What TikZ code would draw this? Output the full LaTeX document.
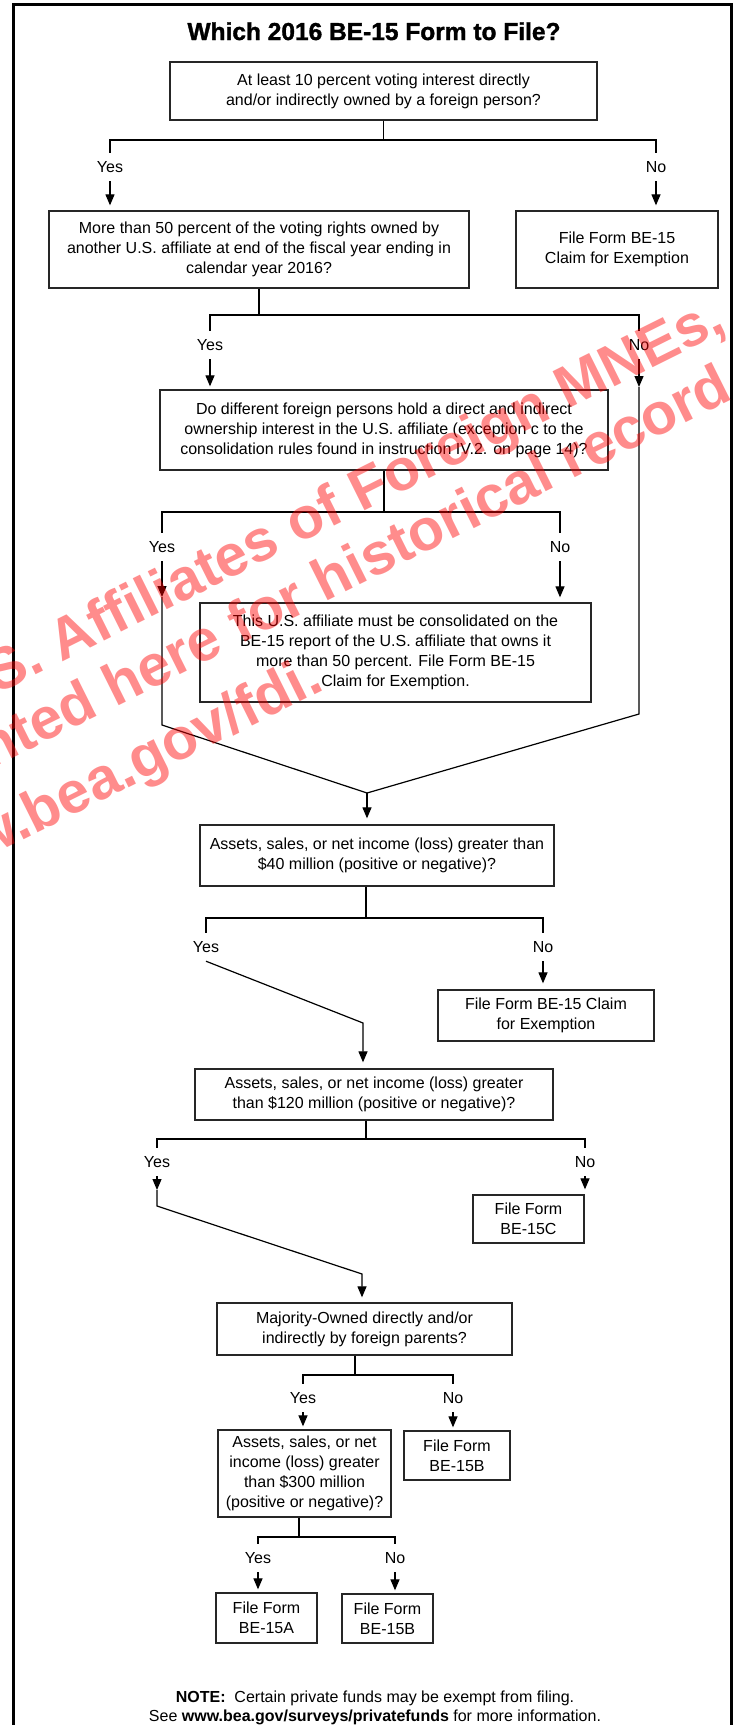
\documentclass[tikz,border=0pt]{standalone}
\usepackage{fontspec}
\setmainfont{Liberation Sans}
\newfontfamily\titlefont[BoldFeatures={FakeBold=1.4}]{Liberation Sans}
\usetikzlibrary{arrows.meta}
\usetikzlibrary{positioning}

\tikzset{
    box/.style={draw=black!85, line width=1.3pt, align=center, inner sep=0pt, font=\fontsize{16}{20}\selectfont},
    lbl/.style={inner sep=0pt, minimum height=28pt, font=\fontsize{16}{20}\selectfont},
    conn/.style={line width=1.2pt},
    arr/.style={-{Triangle[length=11pt,width=9pt]}},
    wmark/.style={rotate=26.5, anchor=base east, inner sep=0pt, red, opacity=0.45, font=\fontsize{58.5}{60}\selectfont\bfseries},
}

\begin{document}
\begin{tikzpicture}[x=1pt,y=-1pt]
    \useasboundingbox (0,0) rectangle (736,1725);
    \draw[line width=3pt] (13.5,1740) -- (13.5,4.5) -- (731.5,4.5) -- (731.5,1740);
    \node[anchor=base, font=\titlefont\fontsize{24.5}{28}\selectfont\bfseries] (title) at (374,40) {Which 2016 BE-15 Form to File?};

    % boxes
    \node[box, minimum width=427pt, minimum height=58pt] (q10) at (383.5,91) {At least 10 percent voting interest directly\\and/or indirectly owned by a foreign person?};
    \node[box, minimum width=420pt, minimum height=77pt] (q50) at (259,249.5) {More than 50 percent of the voting rights owned by\\another U.S. affiliate at end of the fiscal year ending in\\calendar year 2016?};
    \node[box, minimum width=202pt, minimum height=77pt] (ex1) at (617,249.5) {File Form BE-15\\Claim for Exemption};
    \node[box, minimum width=448pt, minimum height=80pt] (qdiff) at (384,430) {Do different foreign persons hold a direct and indirect\\ownership interest in the U.S. affiliate (exception c to the\\consolidation rules found in instruction IV.2. on page 14)?};
    \node[box, minimum width=391pt, minimum height=99pt] (cons) at (395.5,652.5) {This U.S. affiliate must be consolidated on the\\BE-15 report of the U.S. affiliate that owns it\\more than 50 percent. File Form BE-15\\Claim for Exemption.};
    \node[box, minimum width=354pt, minimum height=61pt] (q40) at (377,855.5) {Assets, sales, or net income (loss) greater than\\\$40 million (positive or negative)?};
    \node[box, minimum width=216pt, minimum height=51pt] (ex2) at (546,1015.5) {File Form BE-15 Claim\\for Exemption};
    \node[box, minimum width=358pt, minimum height=51pt] (q120) at (374,1094.5) {Assets, sales, or net income (loss) greater\\than \$120 million (positive or negative)?};
    \node[box, minimum width=111pt, minimum height=48pt] (c15c) at (528.5,1219) {File Form\\BE-15C};
    \node[box, minimum width=295pt, minimum height=52pt] (qmaj) at (364.5,1329) {Majority-Owned directly and/or\\indirectly by foreign parents?};
    \node[box, minimum width=173pt, minimum height=87pt] (q300) at (304.5,1473.5) {Assets, sales, or net\\income (loss) greater\\than \$300 million\\(positive or negative)?};
    \node[box, minimum width=106pt, minimum height=49pt] (b15b) at (457,1455.5) {File Form\\BE-15B};
    \node[box, minimum width=101pt, minimum height=50pt] (b15a) at (266.5,1618) {File Form\\BE-15A};
    \node[box, minimum width=91pt, minimum height=49pt] (b15bb) at (387.5,1618.5) {File Form\\BE-15B};

    % yes / no labels
    \node[lbl] (y1) at (110,167) {Yes};
    \node[lbl] (n1) at (656,167) {No};
    \node[lbl] (y2) at (210,345) {Yes};
    \node[lbl] (n2) at (639,345) {No};
    \node[lbl] (y3) at (162,547) {Yes};
    \node[lbl] (n3) at (560,547) {No};
    \node[lbl] (y4) at (206,947) {Yes};
    \node[lbl] (n4) at (543,947) {No};
    \node[lbl] (y5) at (157,1162) {Yes};
    \node[lbl] (n5) at (585,1162) {No};
    \node[lbl] (y6) at (303,1398) {Yes};
    \node[lbl] (n6) at (453,1398) {No};
    \node[lbl] (y7) at (258,1558) {Yes};
    \node[lbl] (n7) at (395,1558) {No};

    \coordinate (b1) at (383.5,140);
    \coordinate (b2) at (259,315);
    \coordinate (t2) at (639,387);
    \coordinate (r2) at (639,714);
    \coordinate (m1) at (367,793);
    \coordinate (b3) at (384,512);
    \coordinate (t3) at (162,597);
    \coordinate (l3) at (162,725);
    \coordinate (b4) at (366,918);
    \coordinate (d4) at (363,1023);
    \coordinate (b5) at (366,1139);
    \coordinate (t5) at (157,1190);
    \coordinate (l5) at (157,1206);
    \coordinate (d5) at (362,1274);
    \coordinate (b6) at (355,1375);
    \coordinate (b7) at (299,1537);

    % connectors
    \draw[conn] (q10.south) -- (b1);
    \draw[conn] (y1.north) |- (b1) -| (n1.north);
    \draw[conn,arr,shorten >=5pt] (y1.south) -- (y1.south |- q50.north);
    \draw[conn,arr,shorten >=5pt] (n1.south) -- (n1.south |- ex1.north);

    \draw[conn] (q50.south) -- (b2);
    \draw[conn] (y2.north) |- (b2) -| (n2.north);
    \draw[conn,arr,shorten >=3pt] (y2.south) -- (y2.south |- qdiff.north);
    \draw[conn,arr] (n2.south) -- (t2);
    \draw[conn] (t2) -- (r2) -- (m1);

    \draw[conn] (qdiff.south) -- (b3);
    \draw[conn] (y3.north) |- (b3) -| (n3.north);
    \draw[conn,arr] (y3.south) -- (t3);
    \draw[conn] (t3) -- (l3) -- (m1);
    \draw[conn,arr,shorten >=5pt] (n3.south) -- (n3.south |- cons.north);
    \draw[conn,arr,shorten >=6pt] (m1) -- (m1 |- q40.north);

    \draw[conn] (b4 |- q40.south) -- (b4);
    \draw[conn] (y4.north) |- (b4) -| (n4.north);
    \draw[conn,arr,shorten >=6pt] (y4.south) -- (d4) -- (d4 |- q120.north);
    \draw[conn,arr,shorten >=6pt] (n4.south) -- (n4.south |- ex2.north);

    \draw[conn] (b5 |- q120.south) -- (b5);
    \draw[conn] (y5.north) |- (b5) -| (n5.north);
    \draw[conn,arr] (y5.south) -- (t5);
    \draw[conn,arr,shorten >=5pt] (t5) -- (l5) -- (d5) -- (d5 |- qmaj.north);
    \draw[conn,arr,shorten >=5pt] (n5.south) -- (n5.south |- c15c.north);

    \draw[conn] (b6 |- qmaj.south) -- (b6);
    \draw[conn] (y6.north) |- (b6) -| (n6.north);
    \draw[conn,arr,shorten >=3pt] (y6.south) -- (y6.south |- q300.north);
    \draw[conn,arr,shorten >=3pt] (n6.south) -- (n6.south |- b15b.north);

    \draw[conn] (b7 |- q300.south) -- (b7);
    \draw[conn] (y7.north) |- (b7) -| (n7.north);
    \draw[conn,arr,shorten >=3pt] (y7.south) -- (y7.south |- b15a.north);
    \draw[conn,arr,shorten >=3pt] (n7.south) -- (n7.south |- b15bb.north);

    \node[align=center, font=\fontsize{16}{19}\selectfont] (note) at (375,1708) {\textbf{NOTE:}\ \ Certain private funds may be exempt from filing.\\See \textbf{www.bea.gov/surveys/privatefunds} for more information.};

    % watermark
    \node[wmark] (wm1) at (728,330) {U.S. Affiliates of Foreign MNEs,};
    \node[wmark] (wm2) at (735,398) {printed here for historical record};
    \node[wmark] (wm3) at (326,689) {www.bea.gov/fdi.};
\end{tikzpicture}
\end{document}
